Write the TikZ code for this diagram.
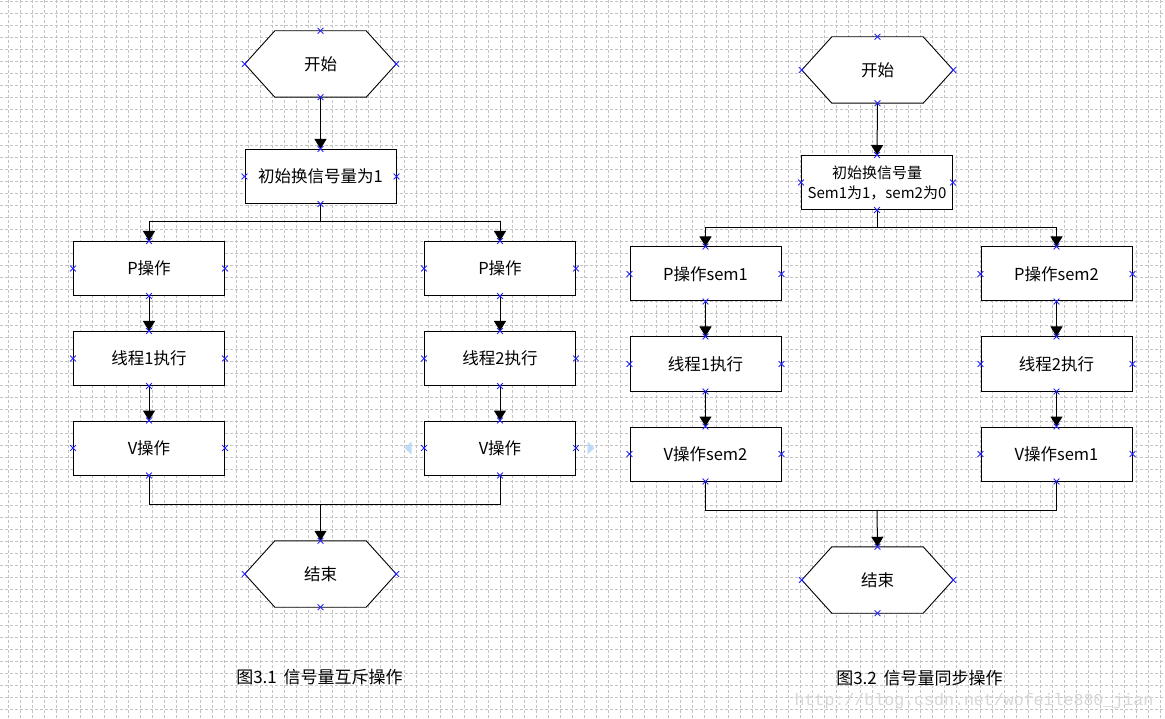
\documentclass[tikz,border=0pt]{standalone}
\usepackage{fontspec}
\setmainfont{Noto Sans CJK SC}
\newfontfamily\wmfont{Liberation Mono}
\usetikzlibrary{arrows.meta,shapes.misc,backgrounds}
\definecolor{handleblue}{RGB}{190,218,248}
\definecolor{wmgray}{RGB}{215,215,215}
\definecolor{gridgray}{RGB}{195,195,195}
\begin{document}
\begin{tikzpicture}[x=1pt,y=-1pt,
  txt/.style={font=\fontsize{16.5}{20}\selectfont},
  box/.style={txt,draw=black,fill=white,line width=1pt,minimum width=151pt,minimum height=54pt,inner sep=0pt,align=center},
  hexnode/.style={txt,minimum width=151pt,minimum height=66pt,inner sep=0pt},
  hexline/.style={draw=black,fill=white,line width=0.9pt},
  conn/.style={draw=black,line width=1pt},
  arr/.style={conn,-{Triangle[width=12pt,length=10pt]}},
  gridline/.style={draw=gridgray,line width=0.8pt,dash pattern=on 3pt off 2pt},
  xmark/.style={cross out,draw=blue!85,line width=0.8pt,minimum size=5pt,inner sep=0pt},
  handle/.style={fill=handleblue},
  caption/.style={font=\fontsize{17}{20}\selectfont}
]
\useasboundingbox (0,0) rectangle (1165,719);

% ---------- left diagram ----------
\node[hexnode] (s1) at (320.5,64) {开始};
\node[box] (i1) at (320.5,176.5) {初始换信号量为1};
\node[box] (p1) at (149,268.5) {P操作};
\node[box] (p2) at (500,268.5) {P操作};
\node[box] (t1) at (149,358.5) {线程1执行};
\node[box] (t2) at (500,358.5) {线程2执行};
\node[box] (v1) at (149,448) {V操作};
\node[box] (v2) at (500,448) {V操作};
\node[hexnode] (e1) at (320.5,574) {结束};
\coordinate (j1) at (320.5,222);
\coordinate (k1) at (320.5,504);

% ---------- right diagram ----------
\node[hexnode] (s2) at (877.5,70) {开始};
\node[box,font=\fontsize{15}{20}\selectfont] (i2) at (877,182.5) {初始换信号量\\Sem1为1，sem2为0};
\node[box] (p3) at (705.5,274) {P操作sem1};
\node[box] (p4) at (1056.5,274) {P操作sem2};
\node[box] (t3) at (705.5,364) {线程1执行};
\node[box] (t4) at (1056.5,364) {线程2执行};
\node[box] (v3) at (705.5,454) {V操作sem2};
\node[box] (v4) at (1056.5,454) {V操作sem1};
\node[hexnode] (e2) at (877.5,580) {结束};
\coordinate (j2) at (877,228);
\coordinate (k2) at (877,510);

% ---------- captions ----------
\node[caption] (cap1) at (319.5,677) {图3.1\hspace{0.4em}信号量互斥操作};
\node[caption] (cap2) at (919.5,678) {图3.2\hspace{0.4em}信号量同步操作};
\node[font=\wmfont\fontsize{16.6}{18}\selectfont,text=wmgray] (wm) at (974,701) {http://blog.csdn.net/wofeile880\_jian};

% ---------- background: grid and hexagons ----------
\begin{scope}[on background layer]
  \fill[white] (0,0) rectangle (1165,719);
  \foreach \i in {0,...,96} \draw[gridline] (8+12*\i,0) -- (8+12*\i,719);
  \foreach \i in {0,...,59} \draw[gridline] (0,1.7+12*\i) -- (1165,1.7+12*\i);
  \foreach \h in {s1,e1,s2,e2}
    \path[hexline] (\h.west) -- ([xshift=30pt]\h.north west) -- ([xshift=-30pt]\h.north east)
      -- (\h.east) -- ([xshift=-30pt]\h.south east) -- ([xshift=30pt]\h.south west) -- cycle;
\end{scope}

% ---------- connectors, left ----------
\draw[arr] (s1.south) -- (i1.north);
\draw[conn] (i1.south) -- (j1);
\draw[arr] (j1) -| (p1.north);
\draw[arr] (j1) -| (p2.north);
\draw[arr] (p1.south) -- (t1.north);
\draw[arr] (p2.south) -- (t2.north);
\draw[arr] (t1.south) -- (v1.north);
\draw[arr] (t2.south) -- (v2.north);
\draw[conn] (v1.south) |- (k1);
\draw[conn] (v2.south) |- (k1);
\draw[arr] (k1) -- (e1.north);

% ---------- connectors, right ----------
\draw[arr] (s2.south) -- (i2.north);
\draw[conn] (i2.south) -- (j2);
\draw[arr] (j2) -| (p3.north);
\draw[arr] (j2) -| (p4.north);
\draw[arr] (p3.south) -- (t3.north);
\draw[arr] (p4.south) -- (t4.north);
\draw[arr] (t3.south) -- (v3.north);
\draw[arr] (t4.south) -- (v4.north);
\draw[conn] (v3.south) |- (k2);
\draw[conn] (v4.south) |- (k2);
\draw[arr] (k2) -- (e2.north);

% ---------- connection markers ----------
\foreach \n in {s1,i1,p1,p2,t1,t2,v1,v2,e1,s2,i2,p3,p4,t3,t4,v3,v4,e2}
  \foreach \a in {north,south,east,west}
    \node[xmark] at (\n.\a) {};

% ---------- selection handles ----------
\fill[handle] ([xshift=-12.5pt,yshift=-6.5pt]v2.west) -- ([xshift=-12.5pt,yshift=6.5pt]v2.west) -- ([xshift=-19.5pt]v2.west) -- cycle;
\fill[handle] ([xshift=11.5pt,yshift=-6.5pt]v2.east) -- ([xshift=11.5pt,yshift=6.5pt]v2.east) -- ([xshift=18.5pt]v2.east) -- cycle;
\end{tikzpicture}
\end{document}
